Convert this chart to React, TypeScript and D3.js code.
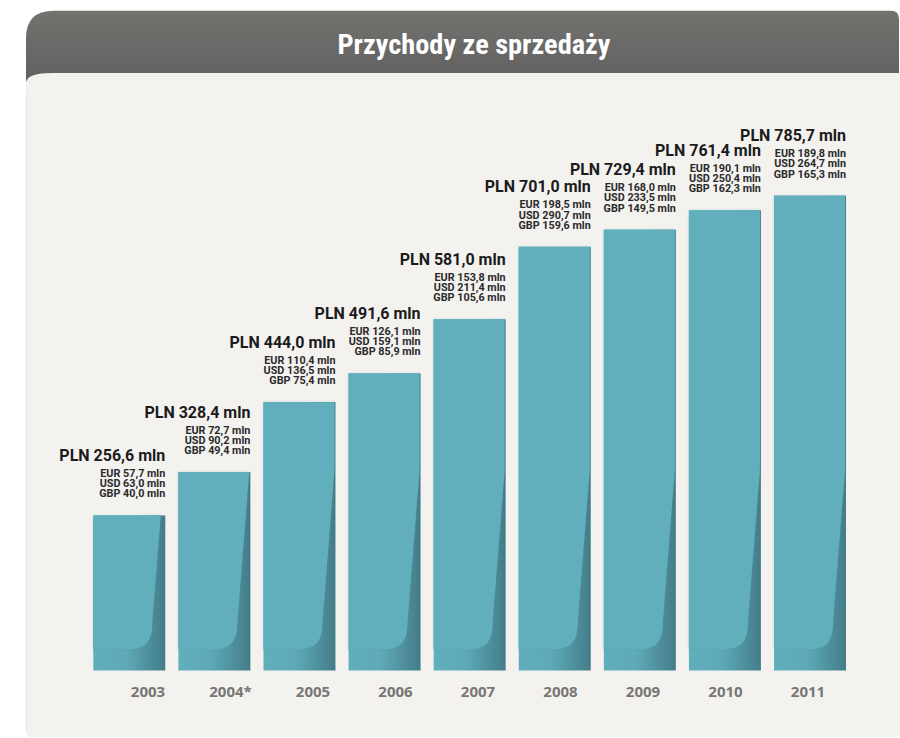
import React from "react";
import * as d3 from "d3";

const years = ["2003", "2004*", "2005", "2006", "2007", "2008", "2009", "2010", "2011"];
const pln = [256.6, 328.4, 444.0, 491.6, 581.0, 701.0, 729.4, 761.4, 785.7];
const eur = [57.7, 72.7, 110.4, 126.1, 153.8, 198.5, 168.0, 190.1, 189.8];
const usd = [63.0, 90.2, 136.5, 159.1, 211.4, 290.7, 233.5, 250.4, 264.7];
const gbp = [40.0, 49.4, 75.4, 85.9, 105.6, 159.6, 149.5, 162.3, 165.3];
const title = "Przychody ze sprzedaży";

const W = 900;
const H = 738;
const fmt = (v: number) => v.toFixed(1).replace(".", ",") + " mln";
const COND = "'Roboto Condensed', Roboto, sans-serif";
const LBL = "Roboto, 'Noto Sans', sans-serif";

export default function App() {
  const x = d3.scaleBand<string>().domain(years).range([93.3, 846]).paddingInner(0.154).paddingOuter(0);
  const xLab = d3.scalePoint<string>().domain(years).range([148, 808]);
  const y = d3.scaleLinear().domain([0, 800]).range([670.5, 187]);
  const bw = x.bandwidth();
  const B = y(0);

  const curlPath = (x0: number, top: number) => {
    const R = x0 + bw;
    const wTopY = B - 200;
    const wBotY = B - 48;
    const wx = (yy: number) => {
      if (yy <= wTopY) return R - 1;
      return R - 1 - 12 * (yy - wTopY) / (wBotY - wTopY);
    };
    const p = d3.path();
    p.moveTo(x0, top);
    p.lineTo(wx(top), top);
    if (top < wTopY) p.lineTo(R - 1, wTopY);
    p.lineTo(R - 13, wBotY);
    p.bezierCurveTo(R - 13, B - 28, R - 20, B - 21, R - 40, B - 21);
    p.lineTo(x0, B - 21);
    p.closePath();
    return p.toString();
  };

  return (
    <svg width={W} height={H} style={{ position: "absolute", left: 0, top: 0, background: "#ffffff" }}>
      <defs>
        <linearGradient id="hdr" x1="0" y1="0" x2="0" y2="1">
          <stop offset="0" stopColor="#73726f" />
          <stop offset="1" stopColor="#5c5c5c" />
        </linearGradient>
        <linearGradient id="barGrad" x1="0" y1="0" x2="1" y2="0">
          <stop offset="0" stopColor="#61aebc" />
          <stop offset="0.45" stopColor="#5eaab8" />
          <stop offset="1" stopColor="#447c89" />
        </linearGradient>
        <linearGradient id="stem" x1="0" y1="0" x2="0" y2="1">
          <stop offset="0" stopColor="#b8b8b8" stopOpacity="0" />
          <stop offset="1" stopColor="#8a8a8a" stopOpacity="0.9" />
        </linearGradient>
        <filter id="soft" x="-10%" y="-10%" width="120%" height="120%">
          <feGaussianBlur stdDeviation="1.2" />
        </filter>
      </defs>

      {/* header */}
      <path
        d={`M26,${38} Q26,10.7 54,10.7 L891,10.7 Q899,10.7 899,19 L899,100 L26,100 Z`}
        fill="url(#hdr)"
      />
      {/* panel */}
      <path
        d={`M26,82 Q28,73 52,73 L900,73 L900,737 L31,737 Q26,737 26,732 Z`}
        fill="#f3f2ef"
      />
      <line x1={26.5} y1={90} x2={26.5} y2={732} stroke="#e6e5e1" strokeWidth={1} />

      <text
        x={474}
        y={54}
        textAnchor="middle"
        fill="#ffffff"
        fontFamily={COND}
        fontWeight="bold"
        fontSize={27}
        textLength={273}
        lengthAdjust="spacingAndGlyphs"
      >
        {title}
      </text>

      {years.map((yr, i) => {
        const x0 = x(yr) as number;
        const top = y(pln[i]);
        const R = x0 + bw;
        const gb = top - 18;
        return (
          <g key={yr}>
            <line x1={R - 0.5} x2={R - 0.5} y1={gb + 4} y2={top} stroke="url(#stem)" strokeWidth={1.2} />
            <rect x={x0} y={top} width={bw} height={B - top} fill="url(#barGrad)" />
            <path d={curlPath(x0, top)} fill="#4f95a2" opacity={0.35} filter="url(#soft)" />
            <path d={curlPath(x0, top)} fill="#61aebc" />
            <text x={R} y={gb - 36.5} textAnchor="end" fontFamily={LBL} fontWeight="bold" fontSize={16} fill="#1b1b1b">
              {"PLN " + fmt(pln[i])}
            </text>
            <text x={R} y={gb - 20.5} textAnchor="end" fontFamily={LBL} fontWeight="bold" fontSize={10.8} fill="#2a2a2a">
              {"EUR " + fmt(eur[i])}
            </text>
            <text x={R} y={gb - 10.3} textAnchor="end" fontFamily={LBL} fontWeight="bold" fontSize={10.8} fill="#2a2a2a">
              {"USD " + fmt(usd[i])}
            </text>
            <text x={R} y={gb} textAnchor="end" fontFamily={LBL} fontWeight="bold" fontSize={10.8} fill="#2a2a2a">
              {"GBP " + fmt(gbp[i])}
            </text>
            <text
              x={xLab(yr)}
              y={696.5}
              textAnchor="middle"
              fontFamily="'Open Sans', sans-serif"
              fontWeight="bold"
              fontSize={15}
              fill="#777674"
            >
              {yr}
            </text>
          </g>
        );
      })}
    </svg>
  );
}
